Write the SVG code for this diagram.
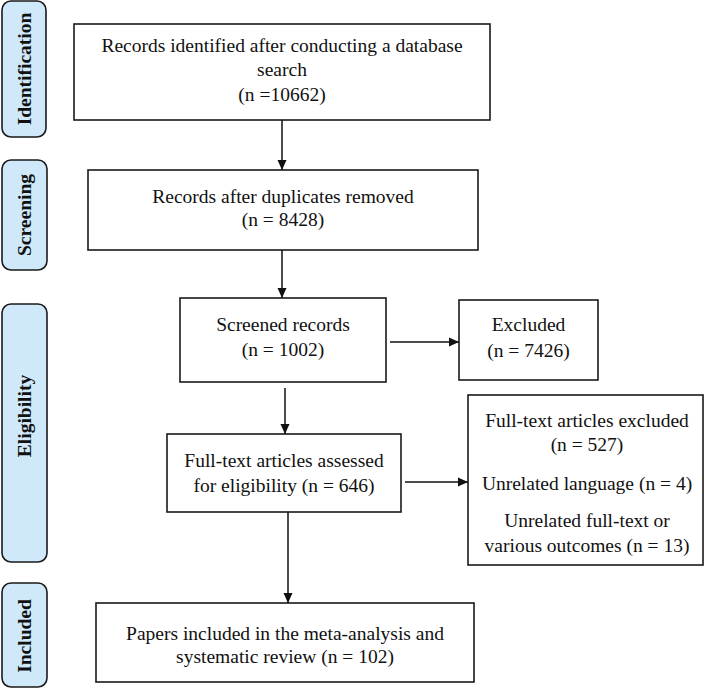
<svg xmlns="http://www.w3.org/2000/svg" width="710" height="692" viewBox="0 0 710 692">
<defs>
<style>
.stage{fill:#cfe9fb;stroke:#1a1a1a;stroke-width:1.6}
.stage-t{font-family:"Liberation Serif","Times New Roman",serif;font-weight:bold;font-size:19.5px;fill:#111;text-anchor:middle}
.box{fill:#fff;stroke:#1a1a1a;stroke-width:1.6}
.t{font-family:"Liberation Serif","Times New Roman",serif;font-size:19.5px;fill:#111;text-anchor:middle}
.c{stroke:#111;stroke-width:1.5;fill:none;marker-end:url(#ah)}
</style>
<marker id="ah" markerWidth="10" markerHeight="10" refX="10" refY="5" orient="auto" markerUnits="userSpaceOnUse">
<path d="M0,0.5 L10,5 L0,9.5 Z" fill="#111"/>
</marker>
</defs>
<rect width="710" height="692" fill="#fff"/>
<g id="stage-identification">
<rect class="stage" x="2" y="1" width="44" height="136" rx="9"/>
<text class="stage-t" transform="translate(31,69) rotate(-90)">Identification</text>
</g>
<g id="stage-screening">
<rect class="stage" x="2" y="160" width="45" height="110" rx="9"/>
<text class="stage-t" transform="translate(31,215) rotate(-90)">Screening</text>
</g>
<g id="stage-eligibility">
<rect class="stage" x="2" y="304" width="45" height="258" rx="9"/>
<text class="stage-t" transform="translate(31,416) rotate(-90)">Eligibility</text>
</g>
<g id="stage-included">
<rect class="stage" x="2" y="583" width="45" height="104" rx="9"/>
<text class="stage-t" transform="translate(31,636) rotate(-90)">Included</text>
</g>
<g id="identified">
<rect class="box" x="74" y="24" width="416" height="96"/>
<text class="t" x="282" y="52">Records identified after conducting a database</text>
<text class="t" x="282" y="76">search</text>
<text class="t" x="282" y="101">(n =10662)</text>
</g>
<g id="deduplicated">
<rect class="box" x="88" y="170" width="390" height="80"/>
<text class="t" x="283" y="203">Records after duplicates removed</text>
<text class="t" x="283" y="226">(n = 8428)</text>
</g>
<g id="screened">
<rect class="box" x="180" y="298" width="206" height="84"/>
<text class="t" x="283" y="331">Screened records</text>
<text class="t" x="283" y="356">(n = 1002)</text>
</g>
<g id="excluded">
<rect class="box" x="459" y="300" width="139" height="80"/>
<text class="t" x="528.5" y="331">Excluded</text>
<text class="t" x="528.5" y="357">(n = 7426)</text>
</g>
<g id="fulltext">
<rect class="box" x="167" y="434" width="234" height="78"/>
<text class="t" x="284" y="467">Full-text articles assessed</text>
<text class="t" x="284" y="492">for eligibility (n = 646)</text>
</g>
<g id="fulltext-excluded">
<rect class="box" x="468" y="395" width="235" height="170"/>
<text class="t" x="587" y="427">Full-text articles excluded</text>
<text class="t" x="587" y="451">(n = 527)</text>
<text class="t" x="587" y="490">Unrelated language (n = 4)</text>
<text class="t" x="587" y="527">Unrelated full-text or</text>
<text class="t" x="587" y="552">various outcomes (n = 13)</text>
</g>
<g id="included">
<rect class="box" x="96" y="603" width="378" height="79"/>
<text class="t" x="285" y="640">Papers included in the meta-analysis and</text>
<text class="t" x="285" y="663">systematic review (n = 102)</text>
</g>
<g id="connectors">
<line class="c" x1="282" y1="120" x2="282" y2="170"/>
<line class="c" x1="282" y1="250" x2="282" y2="298"/>
<line class="c" x1="285" y1="388" x2="285" y2="434"/>
<line class="c" x1="390" y1="342" x2="459" y2="342"/>
<line class="c" x1="405" y1="482" x2="468" y2="482"/>
<line class="c" x1="288" y1="512" x2="288" y2="603"/>
</g>
</svg>
